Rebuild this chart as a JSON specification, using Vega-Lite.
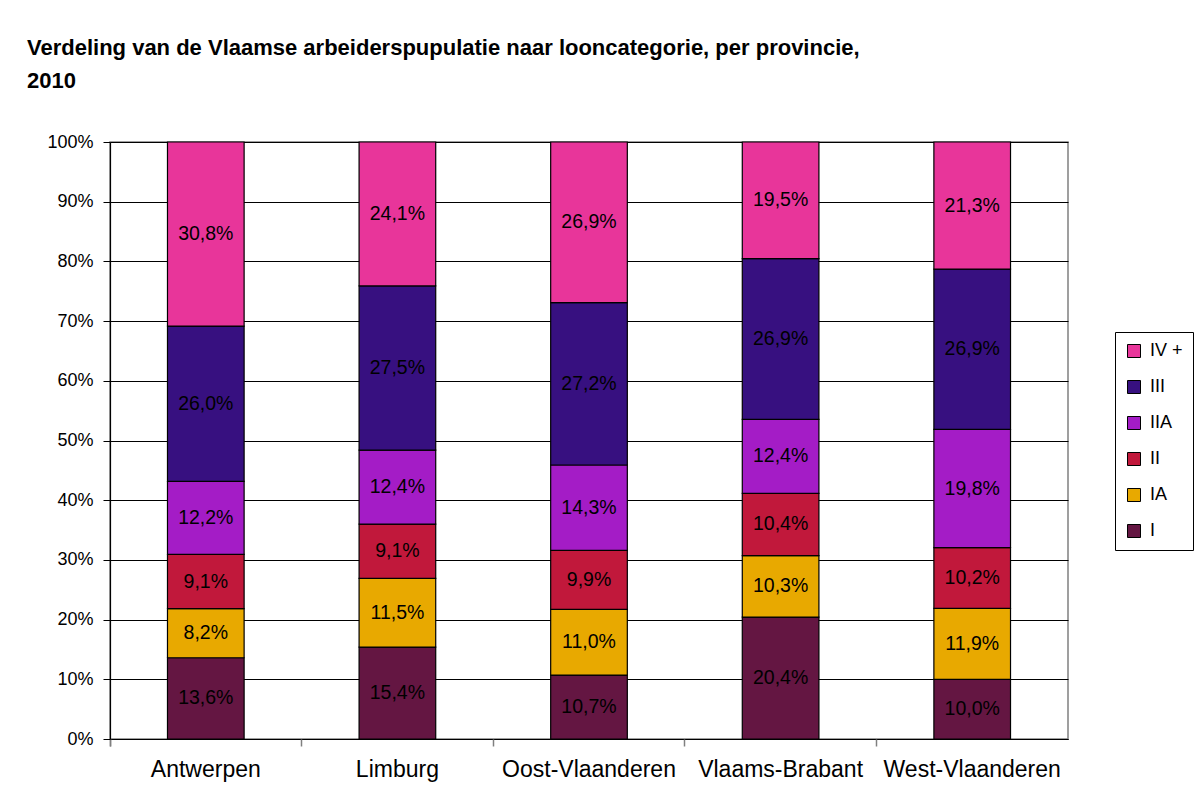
{
  "$schema": "https://vega.github.io/schema/vega-lite/v6.json",
  "autosize": {"type": "none"},
  "width": 958,
  "height": 597,
  "padding": {"left": 110, "top": 142, "right": 126, "bottom": 62},
  "background": "white",
  "config": {
    "font": "Liberation Sans",
    "locale": {"number": {"decimal": ",", "thousands": ".", "grouping": [3], "currency": ["€", ""]}},
    "view": {"stroke": "#808080", "strokeWidth": 1.5}
  },
  "title": {
    "text": ["Verdeling van de Vlaamse arbeiderspupulatie naar looncategorie, per provincie,", "2010"],
    "anchor": "start",
    "frame": "group",
    "dx": -83,
    "offset": 40,
    "fontSize": 22,
    "fontWeight": "bold",
    "lineHeight": 33,
    "color": "black",
    "font": "Liberation Sans"
  },
  "data": {
    "values": [
      {"provincie": "Antwerpen", "categorie": "I", "orde": 1, "aandeel": 0.136},
      {"provincie": "Antwerpen", "categorie": "IA", "orde": 2, "aandeel": 0.082},
      {"provincie": "Antwerpen", "categorie": "II", "orde": 3, "aandeel": 0.091},
      {"provincie": "Antwerpen", "categorie": "IIA", "orde": 4, "aandeel": 0.122},
      {"provincie": "Antwerpen", "categorie": "III", "orde": 5, "aandeel": 0.260},
      {"provincie": "Antwerpen", "categorie": "IV +", "orde": 6, "aandeel": 0.308},
      {"provincie": "Limburg", "categorie": "I", "orde": 1, "aandeel": 0.154},
      {"provincie": "Limburg", "categorie": "IA", "orde": 2, "aandeel": 0.115},
      {"provincie": "Limburg", "categorie": "II", "orde": 3, "aandeel": 0.091},
      {"provincie": "Limburg", "categorie": "IIA", "orde": 4, "aandeel": 0.124},
      {"provincie": "Limburg", "categorie": "III", "orde": 5, "aandeel": 0.275},
      {"provincie": "Limburg", "categorie": "IV +", "orde": 6, "aandeel": 0.241},
      {"provincie": "Oost-Vlaanderen", "categorie": "I", "orde": 1, "aandeel": 0.107},
      {"provincie": "Oost-Vlaanderen", "categorie": "IA", "orde": 2, "aandeel": 0.110},
      {"provincie": "Oost-Vlaanderen", "categorie": "II", "orde": 3, "aandeel": 0.099},
      {"provincie": "Oost-Vlaanderen", "categorie": "IIA", "orde": 4, "aandeel": 0.143},
      {"provincie": "Oost-Vlaanderen", "categorie": "III", "orde": 5, "aandeel": 0.272},
      {"provincie": "Oost-Vlaanderen", "categorie": "IV +", "orde": 6, "aandeel": 0.269},
      {"provincie": "Vlaams-Brabant", "categorie": "I", "orde": 1, "aandeel": 0.204},
      {"provincie": "Vlaams-Brabant", "categorie": "IA", "orde": 2, "aandeel": 0.103},
      {"provincie": "Vlaams-Brabant", "categorie": "II", "orde": 3, "aandeel": 0.104},
      {"provincie": "Vlaams-Brabant", "categorie": "IIA", "orde": 4, "aandeel": 0.124},
      {"provincie": "Vlaams-Brabant", "categorie": "III", "orde": 5, "aandeel": 0.269},
      {"provincie": "Vlaams-Brabant", "categorie": "IV +", "orde": 6, "aandeel": 0.195},
      {"provincie": "West-Vlaanderen", "categorie": "I", "orde": 1, "aandeel": 0.100},
      {"provincie": "West-Vlaanderen", "categorie": "IA", "orde": 2, "aandeel": 0.119},
      {"provincie": "West-Vlaanderen", "categorie": "II", "orde": 3, "aandeel": 0.102},
      {"provincie": "West-Vlaanderen", "categorie": "IIA", "orde": 4, "aandeel": 0.198},
      {"provincie": "West-Vlaanderen", "categorie": "III", "orde": 5, "aandeel": 0.269},
      {"provincie": "West-Vlaanderen", "categorie": "IV +", "orde": 6, "aandeel": 0.213}
    ]
  },
  "transform": [
    {"stack": "aandeel", "groupby": ["provincie"], "sort": [{"field": "orde", "order": "ascending"}], "offset": "normalize", "as": ["y0", "y1"]},
    {"calculate": "(datum.y0 + datum.y1) / 2", "as": "ymid"}
  ],
  "resolve": {"axis": {"x": "independent"}},
  "layer": [
    {
      "mark": {"type": "bar", "width": {"band": 0.4}, "stroke": "black", "strokeWidth": 1.2},
      "encoding": {
        "x": {
          "field": "provincie", "type": "nominal", "sort": null,
          "scale": {"paddingInner": 0, "paddingOuter": 0},
          "axis": {
            "orient": "bottom",
            "title": null, "labelAngle": 0, "labelFontSize": 23, "labelColor": "black",
            "labelPadding": 19, "ticks": false, "domainColor": "black", "domainWidth": 1.2
          }
        },
        "y": {
          "field": "y0", "type": "quantitative",
          "scale": {"domain": [0, 1], "nice": false},
          "axis": {
            "title": null, "format": ".0%", "values": [0, 0.1, 0.2, 0.3, 0.4, 0.5, 0.6, 0.7, 0.8, 0.9, 1],
            "labelFontSize": 18, "labelColor": "black", "labelPadding": 10,
            "tickSize": 7, "tickColor": "black", "domainColor": "black", "domainWidth": 1.2,
            "grid": true, "gridColor": "black", "gridWidth": 1
          }
        },
        "y2": {"field": "y1"},
        "color": {
          "field": "categorie", "type": "nominal",
          "scale": {
            "domain": ["IV +", "III", "IIA", "II", "IA", "I"],
            "range": ["#E8359A", "#371080", "#A41CC6", "#C1183B", "#E8A900", "#641642"]
          },
          "legend": {
            "title": null, "orient": "none", "legendX": 1005, "legendY": 190,
            "symbolType": "square", "symbolSize": 169, "symbolStrokeColor": "black", "symbolStrokeWidth": 1,
            "symbolOpacity": 1,
            "labelFontSize": 18, "labelColor": "black", "labelOffset": 7,
            "rowPadding": 18, "padding": 10, "strokeColor": "black", "fillColor": "white"
          }
        }
      }
    },
    {
      "mark": {"type": "text", "fontSize": 19.5, "color": "black"},
      "encoding": {
        "x": {
          "field": "provincie", "type": "nominal", "sort": null,
          "axis": {
            "orient": "bottom",
            "title": null, "labels": false, "domain": false, "grid": false,
            "ticks": true, "bandPosition": 0, "tickExtra": true,
            "tickSize": 7, "tickColor": "#808080", "tickWidth": 1.5
          }
        },
        "y": {"field": "ymid", "type": "quantitative"},
        "text": {"field": "aandeel", "type": "quantitative", "format": ".1%"}
      }
    }
  ]
}
